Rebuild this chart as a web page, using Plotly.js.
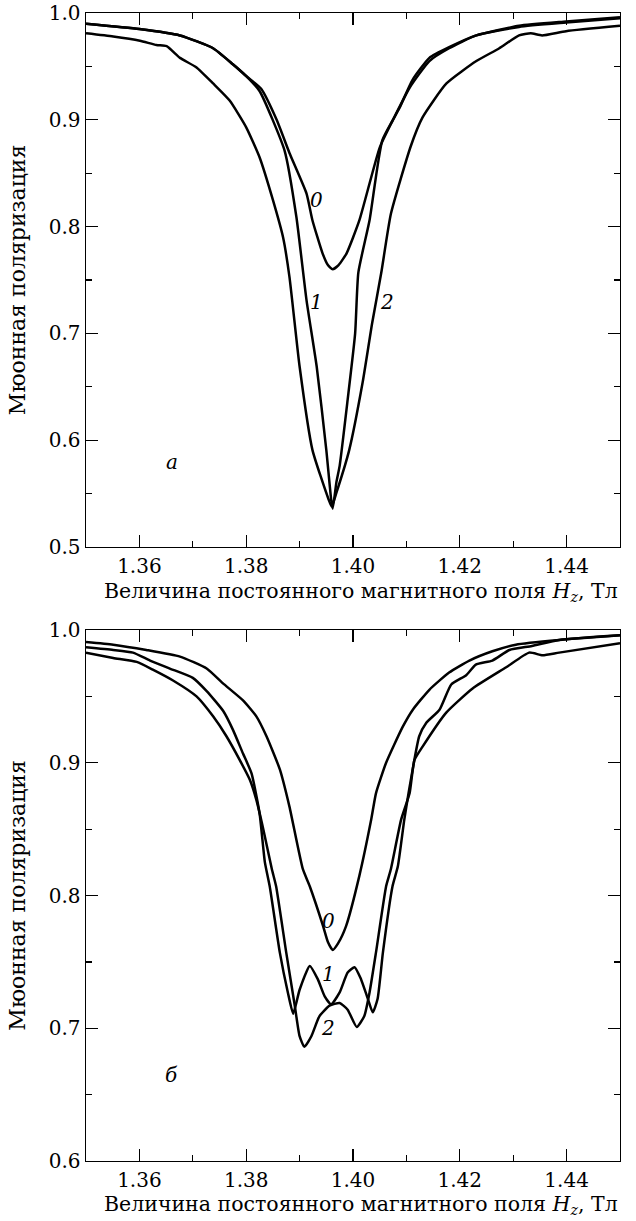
<!DOCTYPE html>
<html>
<head>
<meta charset="utf-8">
<script src="https://cdn.plot.ly/plotly-3.0.1.min.js"></script>
<style>
html,body{margin:0;padding:0;background:#fff;}
#chart{width:636px;height:1221px;}
</style>
</head>
<body>
<div id="chart"></div>
<script>
// ---------- Panel a (top) ----------
const a0_x = [1.350,1.360,1.3676,1.3738,1.3775,1.380,1.3828,1.3857,1.3881,1.3913,1.3924,1.3943,1.3953,1.3962,1.3973,1.3988,1.4012,1.4050,1.4074,1.4106,1.4143,1.4180,1.4231,1.4311,1.4399,1.450];
const a0_y = [0.990,0.985,0.979,0.967,0.952,0.941,0.929,0.900,0.869,0.831,0.806,0.775,0.764,0.760,0.764,0.775,0.806,0.874,0.899,0.930,0.955,0.967,0.979,0.987,0.991,0.995];

const a1_x = [1.350,1.360,1.3676,1.3738,1.3775,1.380,1.3825,1.3872,1.3894,1.3913,1.3932,1.3950,1.3959,1.3962,1.3969,1.3975,1.3990,1.4004,1.4010,1.4031,1.4055,1.4087,1.4111,1.4143,1.4180,1.4231,1.4311,1.4399,1.450];
const a1_y = [0.990,0.985,0.979,0.967,0.952,0.941,0.927,0.871,0.809,0.731,0.669,0.591,0.545,0.536,0.561,0.576,0.638,0.700,0.757,0.806,0.881,0.911,0.937,0.958,0.968,0.979,0.988,0.992,0.996];

const a2_x = [1.350,1.3551,1.3601,1.3632,1.3651,1.3676,1.3707,1.3738,1.3769,1.380,1.3825,1.3850,1.3869,1.3881,1.3900,1.3924,1.3954,1.3960,1.3969,1.3993,1.4018,1.4036,1.4053,1.4071,1.4108,1.4130,1.4175,1.4231,1.4274,1.4311,1.4333,1.4354,1.4399,1.450];
const a2_y = [0.981,0.978,0.974,0.970,0.969,0.958,0.949,0.934,0.918,0.893,0.865,0.825,0.790,0.753,0.669,0.591,0.545,0.538,0.551,0.591,0.654,0.710,0.757,0.812,0.875,0.902,0.934,0.955,0.967,0.979,0.981,0.979,0.983,0.988];

// ---------- Panel б (bottom) ----------
const b0_x = [1.350,1.3551,1.3613,1.3676,1.3726,1.3756,1.3794,1.3819,1.3838,1.3863,1.3881,1.3906,1.3919,1.3944,1.3953,1.3962,1.3972,1.3987,1.4012,1.4034,1.4043,1.4062,1.4093,1.4112,1.4143,1.4180,1.4218,1.4261,1.4305,1.4386,1.450];
const b0_y = [0.991,0.989,0.985,0.980,0.971,0.960,0.947,0.935,0.920,0.895,0.867,0.820,0.807,0.777,0.765,0.759,0.764,0.777,0.815,0.857,0.877,0.900,0.927,0.940,0.955,0.968,0.977,0.984,0.989,0.9925,0.996];

const b1_x = [1.350,1.3551,1.3588,1.3620,1.3657,1.3700,1.3726,1.3757,1.3775,1.3794,1.3810,1.3825,1.3835,1.3844,1.3863,1.3878,1.3888,1.3900,1.3919,1.3934,1.3947,1.3959,1.3975,1.3990,1.4003,1.4015,1.4028,1.4037,1.4046,1.4056,1.4074,1.4084,1.4096,1.4104,1.4124,1.4137,1.4162,1.4184,1.4212,1.4230,1.4261,1.4293,1.4335,1.4386,1.450];
const b1_y = [0.987,0.985,0.983,0.977,0.971,0.964,0.954,0.939,0.925,0.907,0.892,0.862,0.825,0.807,0.757,0.727,0.711,0.729,0.747,0.737,0.724,0.718,0.727,0.742,0.746,0.737,0.722,0.712,0.722,0.757,0.807,0.822,0.857,0.877,0.920,0.930,0.940,0.959,0.966,0.974,0.977,0.985,0.988,0.9925,0.996];

const b2_x = [1.350,1.3551,1.3595,1.3626,1.3663,1.3707,1.3738,1.3763,1.3788,1.3807,1.3819,1.3832,1.3848,1.3856,1.3875,1.3891,1.3900,1.3909,1.3922,1.3937,1.3956,1.3975,1.3990,1.4007,1.4021,1.4031,1.4043,1.4062,1.4071,1.4090,1.4106,1.4115,1.4130,1.4175,1.4224,1.4287,1.4330,1.4355,1.4386,1.450];
const b2_y = [0.983,0.979,0.976,0.970,0.962,0.950,0.935,0.920,0.902,0.887,0.872,0.850,0.820,0.807,0.757,0.717,0.694,0.686,0.694,0.709,0.717,0.719,0.714,0.701,0.709,0.727,0.757,0.807,0.820,0.857,0.877,0.902,0.912,0.938,0.956,0.972,0.983,0.981,0.983,0.990];

// ---------- Ticks & labels ----------
const xTickVals = [1.36,1.38,1.40,1.42,1.44];
const xTickText = ['1.36','1.38','1.40','1.42','1.44'];
const xMinorVals = [1.37,1.39,1.41,1.43];
const yTopVals = [0.5,0.6,0.7,0.8,0.9,1.0];
const yTopText = ['0.5','0.6','0.7','0.8','0.9','1.0'];
const yTopMinor = [0.55,0.65,0.75,0.85,0.95];
const yBotVals = [0.6,0.7,0.8,0.9,1.0];
const yBotText = ['0.6','0.7','0.8','0.9','1.0'];
const yBotMinor = [0.65,0.75,0.85,0.95];

const curveLabels = ['0','1','2'];
const topLabelX = [1.3932,1.3932,1.4063];
const topLabelY = [0.825,0.729,0.729];
const botLabelX = [1.3954,1.3954,1.3954];
const botLabelY = [0.781,0.741,0.700];
const panelLabels = ['а','б'];
const panelLabelX = [1.3661,1.3661];
const panelLabelY = [0.580,0.665];

const xTitle = 'Величина постоянного магнитного поля <i>H<sub>z</sub></i>, Тл';
const yTitle = 'Мюонная поляризация';

const FONT = "'DejaVu Serif', 'Liberation Serif', serif";
const line = {color:'#000', width:2.5};

const traces = [
  {x:a0_x, y:a0_y, xaxis:'x', yaxis:'y'},
  {x:a1_x, y:a1_y, xaxis:'x', yaxis:'y'},
  {x:a2_x, y:a2_y, xaxis:'x', yaxis:'y'},
  {x:b0_x, y:b0_y, xaxis:'x2', yaxis:'y2'},
  {x:b1_x, y:b1_y, xaxis:'x2', yaxis:'y2'},
  {x:b2_x, y:b2_y, xaxis:'x2', yaxis:'y2'}
].map(t => Object.assign(t, {type:'scatter', mode:'lines', line:Object.assign({shape:'spline', smoothing:0.5}, line), hoverinfo:'skip', showlegend:false}));

function xAxis(anchor){
  return {
    anchor:anchor, domain:[0,1], range:[1.35,1.45], showgrid:false, zeroline:false,
    showline:true, linecolor:'#000', linewidth:1.4, mirror:'ticks',
    ticks:'inside', ticklen:12, tickwidth:1.3, tickcolor:'#000',
    tickmode:'array', tickvals:xTickVals, ticktext:xTickText, ticklabelstandoff:1,
    minor:{tickmode:'array', tickvals:xMinorVals, ticks:'inside', ticklen:6, tickwidth:1.3, tickcolor:'#000', showgrid:false},
    tickfont:{family:FONT, size:20, color:'#000'}
  };
}
function yAxis(anchor, domain, range, vals, text, minor){
  return {
    anchor:anchor, domain:domain, range:range, showgrid:false, zeroline:false,
    showline:true, linecolor:'#000', linewidth:1.4, mirror:'ticks',
    ticks:'inside', ticklen:12, tickwidth:1.3, tickcolor:'#000',
    tickmode:'array', tickvals:vals, ticktext:text,
    minor:{tickmode:'array', tickvals:minor, ticks:'inside', ticklen:6, tickwidth:1.3, tickcolor:'#000', showgrid:false},
    tickfont:{family:FONT, size:20, color:'#000'}
  };
}

const annotations = [];
for (let i=0;i<3;i++){
  annotations.push({xref:'x', yref:'y', x:topLabelX[i], y:topLabelY[i], text:'<i>'+curveLabels[i]+'</i>', showarrow:false, font:{family:FONT, size:20, color:'#000'}});
  annotations.push({xref:'x2', yref:'y2', x:botLabelX[i], y:botLabelY[i], text:'<i>'+curveLabels[i]+'</i>', showarrow:false, font:{family:FONT, size:20, color:'#000'}});
}
annotations.push({xref:'x', yref:'y', x:panelLabelX[0], y:panelLabelY[0], text:'<i>'+panelLabels[0]+'</i>', showarrow:false, font:{family:FONT, size:20, color:'#000'}});
annotations.push({xref:'x2', yref:'y2', x:panelLabelX[1], y:panelLabelY[1], text:'<i>'+panelLabels[1]+'</i>', showarrow:false, font:{family:FONT, size:20, color:'#000'}});

// axis titles (positioned in paper coords)
const topDom = [0.5348,1];
const botDom = [0,0.4625];
annotations.push({xref:'paper', yref:'paper', x:0.03, y:topDom[0], yshift:-45, xanchor:'left', yanchor:'middle', text:xTitle, showarrow:false, font:{family:FONT, size:20.5, color:'#000'}});
annotations.push({xref:'paper', yref:'paper', x:0.03, y:botDom[0], yshift:-44, xanchor:'left', yanchor:'middle', text:xTitle, showarrow:false, font:{family:FONT, size:20.5, color:'#000'}});
annotations.push({xref:'paper', yref:'paper', x:-0.129, y:(topDom[0]+topDom[1])/2, xanchor:'center', yanchor:'middle', textangle:-90, text:yTitle, showarrow:false, font:{family:FONT, size:22, color:'#000'}});
annotations.push({xref:'paper', yref:'paper', x:-0.129, y:(botDom[0]+botDom[1])/2, xanchor:'center', yanchor:'middle', textangle:-90, text:yTitle, showarrow:false, font:{family:FONT, size:22, color:'#000'}});

const layout = {
  width:636, height:1221,
  margin:{l:86, r:16, t:13, b:60},
  paper_bgcolor:'#fff', plot_bgcolor:'#fff',
  showlegend:false,
  xaxis:xAxis('y'),
  yaxis:yAxis('x', topDom, [0.5,1.0], yTopVals, yTopText, yTopMinor),
  xaxis2:xAxis('y2'),
  yaxis2:yAxis('x2', botDom, [0.6,1.0], yBotVals, yBotText, yBotMinor),
  annotations:annotations
};

Plotly.newPlot('chart', traces, layout, {staticPlot:true, displayModeBar:false});
</script>
</body>
</html>
